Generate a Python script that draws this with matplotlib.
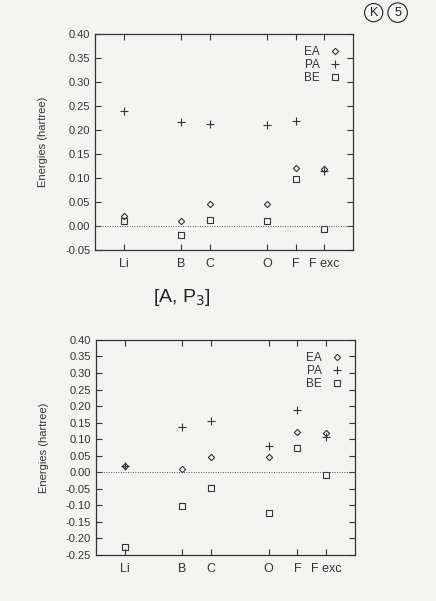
import matplotlib.pyplot as plt

plt.rcParams['font.family'] = ['Liberation Sans', 'DejaVu Sans']

atoms = ['Li', 'B', 'C', 'O', 'F', 'F exc']
z_pos = [3, 5, 6, 8, 9, 10]

# top panel
ea_top = [0.020, 0.010, 0.045, 0.045, 0.122, 0.120]
pa_top = [0.240, 0.217, 0.213, 0.210, 0.220, 0.115]
be_top = [0.010, -0.018, 0.013, 0.010, 0.098, -0.007]
yticks_top = [-0.05, 0.00, 0.05, 0.10, 0.15, 0.20, 0.25, 0.30, 0.35, 0.40]

# bottom panel
ea_bot = [0.020, 0.010, 0.045, 0.045, 0.122, 0.120]
pa_bot = [0.018, 0.138, 0.155, 0.078, 0.188, 0.108]
be_bot = [-0.225, -0.102, -0.047, -0.122, 0.072, -0.009]
yticks_bot = [-0.25, -0.20, -0.15, -0.10, -0.05, 0.00, 0.05, 0.10, 0.15,
              0.20, 0.25, 0.30, 0.35, 0.40]

bg = '#f3f3f1'
ink = '#333333'

fig = plt.figure(figsize=(4.36, 6.01), dpi=100, facecolor=bg)
ax1 = fig.add_axes([0.218, 0.584, 0.592, 0.359])
ax2 = fig.add_axes([0.220, 0.0765, 0.594, 0.358])


def panel(ax, ea, pa, be, yticks):
    ax.set_facecolor(bg)
    ax.plot(z_pos, ea, linestyle='none', marker='D', markersize=3.2,
            mfc='none', mec=ink, mew=0.8, label='EA')
    ax.plot(z_pos, pa, linestyle='none', marker='+', markersize=5.5,
            color=ink, mew=0.8, label='PA')
    ax.plot(z_pos, be, linestyle='none', marker='s', markersize=4,
            mfc='none', mec=ink, mew=0.8, label='BE')
    ax.axhline(0, color='#555555', lw=0.7, ls=(0, (1, 1.5)))
    ax.set_xlim(2, 11)
    ax.set_ylim(yticks[0], yticks[-1])
    ax.set_xticks(z_pos)
    ax.set_xticklabels(atoms)
    ax.set_yticks(yticks)
    ax.set_yticklabels(['%.2f' % v for v in yticks])
    ax.tick_params(direction='in', top=True, right=True, length=4,
                   width=0.8, labelsize=8, colors=ink)
    ax.tick_params(axis='x', pad=6, labelsize=9)
    for s in ax.spines.values():
        s.set_color(ink)
        s.set_linewidth(0.9)
    ax.set_ylabel('Energies (hartree)', fontsize=8, color=ink, labelpad=12)
    leg = ax.legend(loc='upper right', frameon=False, markerfirst=False,
                    fontsize=8.5, handlelength=1.0, handletextpad=0.8,
                    borderaxespad=0.6, labelspacing=0.1)
    for t in leg.get_texts():
        t.set_color(ink)


panel(ax1, ea_top, pa_top, be_top, yticks_top)
panel(ax2, ea_bot, pa_bot, be_bot, yticks_bot)

# handwritten notes on the scanned page
fig.text(0.35, 0.505, r'[A, P$_3$]', fontsize=14, color='#222222',
         ha='left', va='center')
fig.text(0.857, 0.979, 'K', fontsize=9, color='#222222', ha='center',
         va='center', bbox=dict(boxstyle='circle,pad=0.25', fc='none',
                                ec='#222222', lw=0.8))
fig.text(0.912, 0.979, '5', fontsize=9, color='#222222', ha='center',
         va='center', bbox=dict(boxstyle='circle,pad=0.3', fc='none',
                                ec='#222222', lw=0.8))

fig.savefig('out.png', dpi=100, facecolor=bg)
